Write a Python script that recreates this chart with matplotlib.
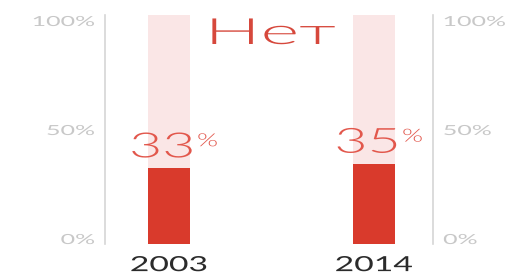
import matplotlib.pyplot as plt
from matplotlib.patheffects import AbstractPathEffect
from matplotlib.transforms import Affine2D
import numpy as np

# данные
years = ['2003', '2014']
values = [33, 35]
title = 'Нет'
ticks = [0, 50, 100]
tick_labels = ['0%', '50%', '100%']

red = '#d93a2c'
pale = '#fae6e6'
label_red = '#e2574c'
grey = '#c8c8c8'
LIGHT = 300

plt.rcParams['font.family'] = ['Lato', 'DejaVu Sans']


class Widen(AbstractPathEffect):
    """растягивает текст по горизонтали (шрифт в оригинале широкий)"""
    def __init__(self, sx, anchor='center'):
        super().__init__()
        self.sx = sx
        self.anchor = anchor

    def draw_path(self, renderer, gc, tpath, affine, rgbFace=None):
        ext = tpath.get_extents(affine)
        x0 = {'left': ext.x0, 'right': ext.x1, 'center': (ext.x0 + ext.x1) / 2}[self.anchor]
        t = affine + Affine2D().translate(-x0, 0).scale(self.sx, 1).translate(x0, 0)
        renderer.draw_path(gc, tpath, t, rgbFace)


W, H = 511, 277
fig = plt.figure(figsize=(W / 100, H / 100), dpi=100)
ax = fig.add_axes([105 / W, (H - 244) / H, 328 / W, 229 / H])
# отдельная ось для подписей шкалы
axl = fig.add_axes([105 / W, (H - 239) / H, 328 / W, 218 / H], zorder=-1)

x = np.arange(len(years))
ax.bar(x, [100] * len(years), width=0.205, color=pale, zorder=1)
ax.bar(x, values, width=0.205, color=red, zorder=2)

ax.set_xlim(-0.312, 1.288)
ax.set_ylim(0, 100)

# подписи значений
for xi, v in zip(x, values):
    ax.annotate(f'{v}', (xi, v), xytext=(18, 8), textcoords='offset points',
                ha='right', va='baseline', fontsize=25, color=label_red,
                fontweight=LIGHT, path_effects=[Widen(1.65, 'right')])
    ax.annotate('%', (xi, v), xytext=(20.5, 16), textcoords='offset points',
                ha='left', va='baseline', fontsize=13, color=label_red,
                fontweight=LIGHT, path_effects=[Widen(1.5, 'left')])

fig.text(272 / W, (H - 44) / H, title, ha='center', va='baseline',
         fontsize=26, color='#d6483c', fontweight=LIGHT,
         path_effects=[Widen(2.05, 'center')])

# оси
for s in ['top', 'bottom']:
    ax.spines[s].set_visible(False)
for s in ['left', 'right']:
    ax.spines[s].set_color('#d6d6d6')
    ax.spines[s].set_linewidth(1.2)
ax.set_yticks([])

axl.set_xlim(0, 1)
axl.set_ylim(0, 100)
axl.patch.set_visible(False)
for s in axl.spines.values():
    s.set_visible(False)
axl.set_xticks([])
axl.set_yticks(ticks, tick_labels)
axl.tick_params(axis='y', length=0, pad=7.5, labelsize=10, labelcolor=grey,
                labelleft=True, labelright=True)
for t in axl.yaxis.get_major_ticks():
    t.label1.set_path_effects([Widen(1.8, 'right')])
    t.label2.set_path_effects([Widen(1.8, 'left')])

ax.set_xticks(x, years)
ax.tick_params(axis='x', length=0, pad=8, labelsize=15, labelcolor='#2b2b2b')
for lab in ax.get_xticklabels():
    lab.set_path_effects([Widen(1.62, 'center')])

fig.savefig('out.png', dpi=100)
